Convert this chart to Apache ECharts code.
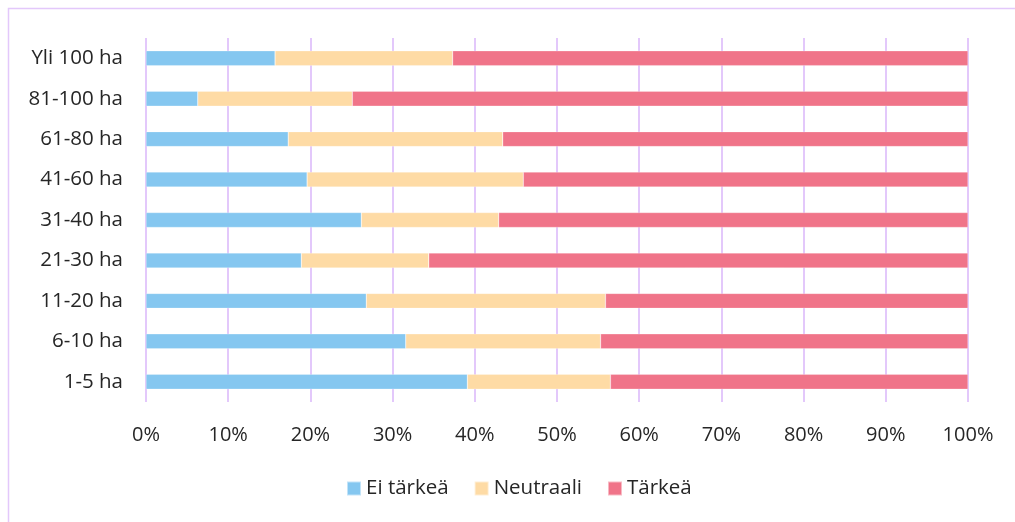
<!DOCTYPE html>
<html>
<head>
<meta charset="utf-8">
<script src="https://cdn.jsdelivr.net/npm/echarts@6/dist/echarts.min.js"></script>
<style>
  html, body { margin: 0; padding: 0; background: #fff; }
  #chart { width: 1015px; height: 522px; }
</style>
</head>
<body>
<div id="chart"></div>
<script>
// koon mukaiset luokat (alhaalta ylös)
const categories = ['1-5 ha', '6-10 ha', '11-20 ha', '21-30 ha', '31-40 ha', '41-60 ha', '61-80 ha', '81-100 ha', 'Yli 100 ha']
const eiTarkea = [39.1, 31.6, 26.8, 18.9, 26.2, 19.6, 17.3, 6.3, 15.7]
const neutraali = [17.4, 23.7, 29.1, 15.5, 16.7, 26.3, 26.1, 18.8, 21.6]
const tarkea = [43.5, 44.7, 44.1, 65.6, 57.1, 54.1, 56.6, 74.9, 62.7]
const seriesNames = ['Ei tärkeä', 'Neutraali', 'Tärkeä']

const font = '"Open Sans", "Noto Sans", sans-serif'
const gridColor = '#e3c8fb'

const chart = echarts.init(document.getElementById('chart'))

function bar(name, data, color) {
  return {
    name: name,
    type: 'bar',
    stack: 'total',
    barWidth: '37%',
    data: data,
    itemStyle: { color: color, borderColor: 'rgba(255,255,255,0.5)', borderWidth: 0.5 }
  }
}

const option = {
  animation: false,
  textStyle: { fontFamily: font },
  graphic: [
    {
      type: 'rect',
      shape: { x: 8.5, y: 8.5, width: 1040, height: 560 },
      style: { fill: 'none', stroke: gridColor, lineWidth: 1.5 },
      silent: true
    }
  ],
  grid: { left: 146, right: 47, top: 38, bottom: 120, containLabel: false },
  legend: {
    left: 341,
    top: 473,
    itemWidth: 14,
    itemHeight: 14,
    itemGap: 25,
    icon: 'rect',
    textStyle: { fontSize: 20.5, color: '#262626', fontFamily: font },
    data: seriesNames
  },
  xAxis: {
    type: 'value',
    min: 0,
    max: 100,
    interval: 10,
    axisLabel: {
      formatter: '{value}%',
      fontSize: 20,
      color: '#262626',
      margin: 23
    },
    axisLine: { show: false },
    axisTick: { show: false },
    splitLine: { show: true, lineStyle: { color: gridColor, width: 2 } }
  },
  yAxis: {
    type: 'category',
    data: categories,
    axisLabel: { fontSize: 20.5, color: '#262626', margin: 23 },
    axisLine: { show: false },
    axisTick: { show: false }
  },
  series: [
    bar(seriesNames[0], eiTarkea, '#85c7f0'),
    bar(seriesNames[1], neutraali, '#fedba5'),
    bar(seriesNames[2], tarkea, '#f07489')
  ]
}
chart.setOption(option)
</script>
</body>
</html>
